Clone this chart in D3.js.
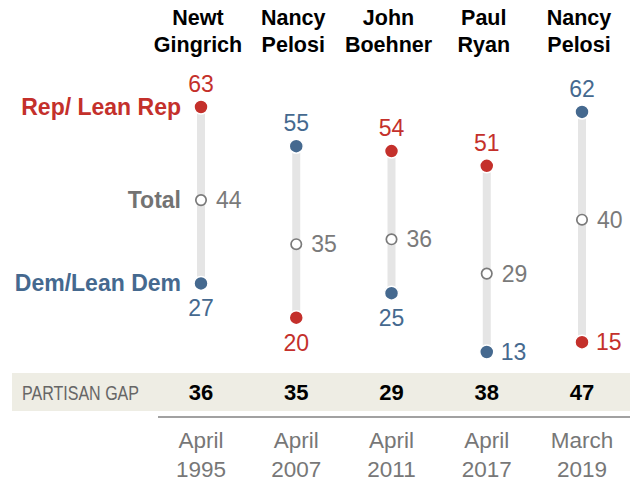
<!DOCTYPE html>
<html><head><meta charset="utf-8">
<script src="https://cdn.jsdelivr.net/npm/d3@7"></script>
<style>
html,body{margin:0;padding:0;background:#fff;}
svg{display:block;font-family:"Liberation Sans",Arial,sans-serif;}
</style></head>
<body><svg id="c" width="630" height="482"></svg>
<script>
const speakers = [["Newt","Gingrich"],["Nancy","Pelosi"],["John","Boehner"],["Paul","Ryan"],["Nancy","Pelosi"]];
const dates = [["April","1995"],["April","2007"],["April","2011"],["April","2017"],["March","2019"]];
const rep = [63,20,54,51,15];
const dem = [27,55,25,13,62];
const total = [44,35,36,29,40];
const gap = [36,35,29,38,47];
const legendLabels = ["Rep/ Lean Rep","Total","Dem/Lean Dem"];
const gapLabel = "PARTISAN GAP";

const RED = "#c4302b", BLUE = "#45698f", GRAY = "#7a7a7a";
const svg = d3.select("#c");
const idx = d3.range(speakers.length);
const x = d3.scalePoint().domain(idx).range([201, 582]);
const y = d3.scaleLinear().domain([13, 63]).range([352, 107]);

// headers
const hdr = svg.append("g");
idx.forEach(i => {
  speakers[i].forEach((t, k) => {
    hdr.append("text").attr("x", x(i) - 3).attr("y", 25 + k * 27)
      .attr("text-anchor", "middle").attr("font-size", 21.5).attr("font-weight", "bold")
      .attr("fill", "#000").text(t);
  });
});

// bars
svg.append("g").selectAll("rect").data(idx).join("rect")
  .attr("x", i => x(i) - 4).attr("width", 8)
  .attr("y", i => y(Math.max(rep[i], dem[i])))
  .attr("height", i => y(Math.min(rep[i], dem[i])) - y(Math.max(rep[i], dem[i])))
  .attr("fill", "#e5e5e5");

// dots
const series = [{v: rep, c: RED}, {v: dem, c: BLUE}];
series.forEach(s => {
  svg.append("g").selectAll("circle").data(idx).join("circle")
    .attr("cx", i => x(i)).attr("cy", i => y(s.v[i])).attr("r", 7)
    .attr("fill", s.c).attr("stroke", "#fff").attr("stroke-width", 1.5);
});
svg.append("g").selectAll("circle").data(idx).join("circle")
  .attr("cx", i => x(i)).attr("cy", i => y(total[i])).attr("r", 5.2)
  .attr("fill", "#fff").attr("stroke", GRAY).attr("stroke-width", 1.7);

// value labels
const lab = svg.append("g").attr("font-size", 23);
idx.forEach(i => {
  const hiRep = rep[i] > dem[i];
  const hi = hiRep ? rep[i] : dem[i], lo = hiRep ? dem[i] : rep[i];
  const hiC = hiRep ? RED : BLUE, loC = hiRep ? BLUE : RED;
  lab.append("text").attr("x", x(i)).attr("y", y(hi) - 15).attr("text-anchor", "middle")
    .attr("fill", hiC).text(hi);
  if (lo < 18) {
    lab.append("text").attr("x", x(i) + 14).attr("y", y(lo) + 8).attr("fill", loC).text(lo);
  } else {
    lab.append("text").attr("x", x(i)).attr("y", y(lo) + 33).attr("text-anchor", "middle")
      .attr("fill", loC).text(lo);
  }
  lab.append("text").attr("x", x(i) + 15).attr("y", y(total[i]) + 8).attr("fill", GRAY).text(total[i]);
});

// legend labels (first column)
const leg = svg.append("g").attr("font-size", 23).attr("font-weight", "bold").attr("text-anchor", "end");
const lx = x(0) - 20;
leg.append("text").attr("x", lx).attr("y", y(rep[0]) + 8).attr("fill", RED).text(legendLabels[0]);
leg.append("text").attr("x", lx).attr("y", y(total[0]) + 8).attr("fill", "#737373").text(legendLabels[1]);
leg.append("text").attr("x", lx).attr("y", y(dem[0]) + 8).attr("fill", BLUE).text(legendLabels[2]);

// partisan gap band
svg.append("rect").attr("x", 12).attr("y", 373).attr("width", 618).attr("height", 38).attr("fill", "#eeede4");
svg.append("text").attr("x", 22).attr("y", 400).attr("font-size", 20.5)
  .attr("textLength", 117).attr("lengthAdjust", "spacingAndGlyphs")
  .attr("fill", "#666").text(gapLabel);
svg.append("g").selectAll("text").data(idx).join("text")
  .attr("x", i => x(i)).attr("y", 400).attr("text-anchor", "middle")
  .attr("font-size", 22).attr("font-weight", "bold").attr("fill", "#000").text(i => gap[i]);

// axis line
svg.append("line").attr("x1", 158).attr("x2", 630).attr("y1", 417).attr("y2", 417)
  .attr("stroke", "#444").attr("stroke-width", 1.2);

// dates
const dg = svg.append("g").attr("font-size", 22.5).attr("fill", "#777").attr("text-anchor", "middle");
idx.forEach(i => {
  dates[i].forEach((t, k) => {
    dg.append("text").attr("x", x(i)).attr("y", 448 + k * 29).text(t);
  });
});
</script></body></html>
